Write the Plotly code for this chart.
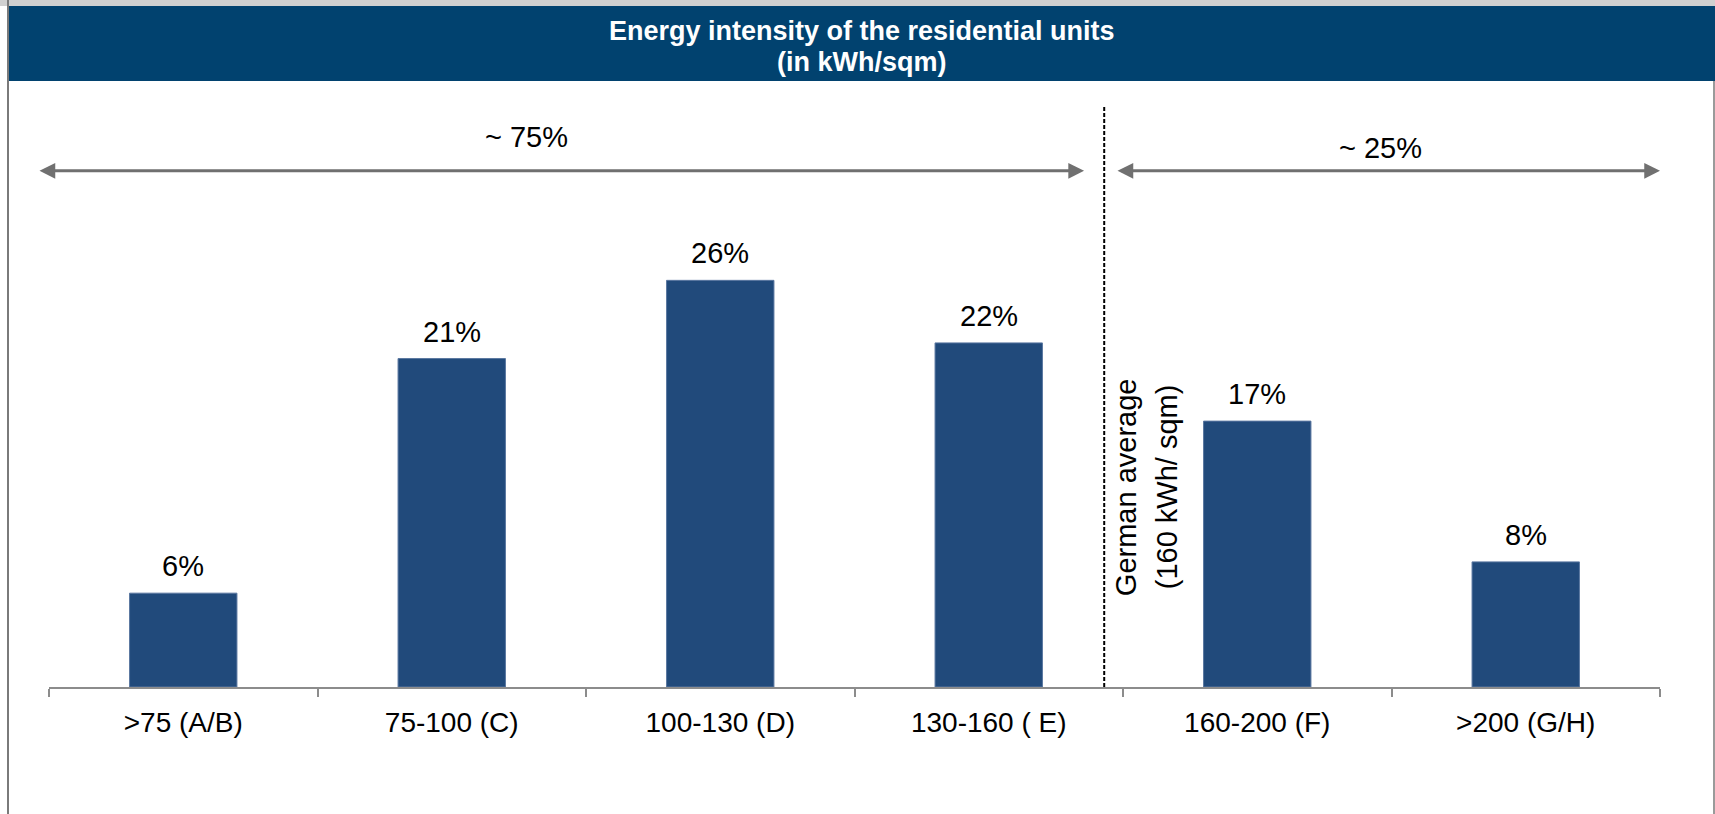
import plotly.graph_objects as go

# Energy-intensity classes (kWh per sqm) and share of residential units in each
categories = [">75 (A/B)", "75-100 (C)", "100-130 (D)", "130-160 ( E)", "160-200 (F)", ">200 (G/H)"]
shares = [6, 21, 26, 22, 17, 8]

# Grouped totals shown above the bars
group_labels = ["~ 75%", "~ 25%"]
title_lines = ["Energy intensity of the residential units", "(in kWh/sqm)"]
reference_lines = ["German average", "(160 kWh/ sqm)"]

W, H = 1715, 814
FONT = "Liberation Sans, Arial, sans-serif"
BAR_BLUE = "#214a7b"
HEADER_BLUE = "#01426f"
ARROW_GREY = "#707070"


def fx(px):
    return px / W


def fy(py):
    return 1 - py / H


fig = go.Figure()
fig.add_trace(go.Bar(
    x=categories,
    y=shares,
    marker=dict(color=BAR_BLUE, line=dict(color="#5a77a0", width=1)),
    hoverinfo="skip",
))

annotations = []

# value labels above each bar
for c, v in zip(categories, shares):
    annotations.append(dict(
        x=c, y=v, xref="x", yref="y", text=f"{v}%", showarrow=False,
        yanchor="middle", yshift=27, font=dict(size=29, color="black", family=FONT),
    ))

# header text
for t, y in zip(title_lines, [31, 62]):
    annotations.append(dict(
        x=fx(862), y=fy(y), xref="paper", yref="paper", text=f"<b>{t}</b>",
        showarrow=False, xanchor="center", yanchor="middle",
        font=dict(size=27, color="white", family=FONT),
    ))

# double-headed span arrows
for x0, x1 in [(-0.541, 3.355), (3.474, 5.5)]:
    annotations.append(dict(
        x=x1, y=33.0, ax=x0, ay=33.0, xref="x", yref="y", axref="x", ayref="y",
        text="", showarrow=True, arrowhead=2, startarrowhead=2, arrowside="end+start",
        arrowsize=1.05, startarrowsize=1.05, arrowwidth=3, arrowcolor=ARROW_GREY,
        standoff=0, startstandoff=0,
    ))

# group labels
for t, (x, y) in zip(group_labels, [(1.28, 35.17), (4.46, 34.46)]):
    annotations.append(dict(
        x=x, y=y, xref="x", yref="y", text=t, showarrow=False,
        font=dict(size=29, color="black", family=FONT),
    ))

# rotated reference note next to the dashed divider
for t, x in zip(reference_lines, [3.512, 3.665]):
    annotations.append(dict(
        x=x, y=12.79, xref="x", yref="y", text=t, showarrow=False, textangle=-90,
        font=dict(size=29, color="black", family=FONT),
    ))

shapes = [
    # light strip on top and header band
    dict(type="rect", xref="paper", yref="paper", x0=0, x1=1, y0=fy(0), y1=fy(6),
         fillcolor="#d0d0d0", line=dict(width=0), layer="below"),
    dict(type="rect", xref="paper", yref="paper", x0=fx(8), x1=1, y0=fy(6), y1=fy(81),
         fillcolor=HEADER_BLUE, line=dict(width=0), layer="below"),
    # frame sides
    dict(type="line", xref="paper", yref="paper", x0=fx(8), x1=fx(8), y0=fy(0), y1=0,
         line=dict(color="#7a7a7a", width=2)),
    dict(type="line", xref="paper", yref="paper", x0=fx(1714), x1=fx(1714), y0=fy(81), y1=0,
         line=dict(color="#9a9a9a", width=2)),
    # German average divider
    dict(type="line", xref="x", yref="y", x0=3.43, x1=3.43, y0=0, y1=37.15,
         line=dict(color="black", width=2, dash="4px,2px")),
]

fig.update_layout(
    width=W, height=H,
    margin=dict(l=0, r=0, t=0, b=0),
    paper_bgcolor="white", plot_bgcolor="white",
    showlegend=False,
    bargap=0.6,
    font=dict(family=FONT, size=28, color="black"),
    xaxis=dict(
        domain=[fx(49), fx(1660)],
        type="category",
        range=[-0.5, 5.5],
        showline=True, linecolor="#8c8c8c", linewidth=2,
        ticks="outside", tickson="boundaries", ticklen=8, tickwidth=2, tickcolor="#8c8c8c",
        tickfont=dict(size=28, color="black", family=FONT),
        ticklabelstandoff=9,
        showgrid=False, zeroline=False, fixedrange=True,
    ),
    yaxis=dict(
        domain=[fy(687), fy(90)],
        range=[0, 38.17],
        visible=False, fixedrange=True,
    ),
    annotations=annotations,
    shapes=shapes,
)

fig.write_html("out.html")
